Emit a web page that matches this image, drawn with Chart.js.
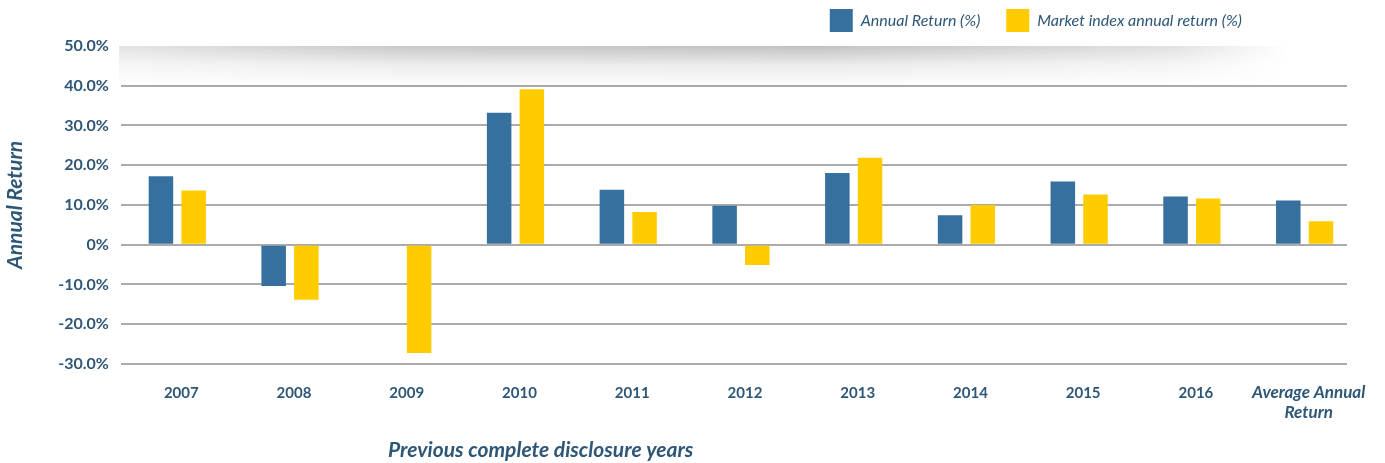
<!DOCTYPE html>
<html>
<head>
<meta charset="utf-8">
<script src="https://cdn.jsdelivr.net/npm/chart.js@4.4.1/dist/chart.umd.min.js"></script>
<style>
  html, body { margin: 0; padding: 0; background: #ffffff; }
  #wrap { width: 1385px; height: 463px; position: relative; }
</style>
</head>
<body>
<div id="wrap"><canvas id="c" width="1385" height="463"></canvas></div>
<script>
// ---- data ----
const categories = ['2007', '2008', '2009', '2010', '2011', '2012', '2013', '2014', '2015', '2016', ['Average Annual', 'Return']];
const annualReturn = [17.2, -10.4, -0.3, 33.2, 13.8, 9.8, 18.0, 7.4, 15.9, 12.1, 11.1];
const marketIndexReturn = [13.6, -13.9, -27.3, 39.1, 8.2, -5.1, 21.9, 10.0, 12.6, 11.6, 5.9];
const seriesNames = ['Annual Return (%)', 'Market index annual return (%)'];
const yTicks = { min: -30, max: 50, step: 10 };
const xAxisTitle = 'Previous complete disclosure years';
const yAxisTitle = 'Annual Return';

const TEXT = '#2E5677';
const FONT = 'Lato, "Open Sans", sans-serif';
const GRID_END_INSET = 14; // gridlines stop short of the category band's right edge

// decorative shadow band at top of plot + legend/title offsets + grid clip
const decor = {
  id: 'decor',
  afterLayout(chart) {
    const lg = chart.legend;
    if (lg) { lg.right = 1268; lg.top -= 4; lg.bottom -= 4; }
    const tb = chart.titleBlock;
    if (tb) { const w = tb.right - tb.left; tb.left = 388; tb.right = tb.left + w; }
  },
  beforeDraw(chart) {
    const a = chart.chartArea;
    const ctx = chart.ctx;
    ctx.save();
    ctx.beginPath();
    ctx.rect(0, 0, chart.width, chart.height);
    ctx.rect(a.right - GRID_END_INSET, a.top - 3, GRID_END_INSET + 2, a.bottom - a.top + 6);
    ctx.clip('evenodd');
  },
  beforeDatasetsDraw(chart) {
    const a = chart.chartArea;
    const ctx = chart.ctx;
    ctx.restore();
    const h = 42;
    const x0 = a.left - 2, x1 = a.right - 72;
    const w = x1 - x0;
    const off = document.createElement('canvas');
    off.width = w; off.height = h;
    const o = off.getContext('2d');
    const vg = o.createLinearGradient(0, 0, 0, h);
    vg.addColorStop(0, 'rgba(0,0,0,0.24)');
    vg.addColorStop(0.45, 'rgba(0,0,0,0.08)');
    vg.addColorStop(1, 'rgba(0,0,0,0)');
    o.fillStyle = vg; o.fillRect(0, 0, w, h);
    o.globalCompositeOperation = 'destination-in';
    const hg = o.createLinearGradient(0, 0, w, 0);
    hg.addColorStop(0, 'rgba(0,0,0,0.45)');
    hg.addColorStop(0.25, 'rgba(0,0,0,0.9)');
    hg.addColorStop(0.6, 'rgba(0,0,0,1)');
    hg.addColorStop(0.9, 'rgba(0,0,0,0.5)');
    hg.addColorStop(1, 'rgba(0,0,0,0)');
    o.fillStyle = hg; o.fillRect(0, 0, w, h);
    ctx.save();
    ctx.drawImage(off, x0, a.top);
    ctx.restore();
  }
};

new Chart(document.getElementById('c'), {
  type: 'bar',
  data: {
    labels: categories,
    datasets: [
      { label: seriesNames[0], data: annualReturn, backgroundColor: '#36709F', categoryPercentage: 0.58, barPercentage: 0.75 },
      { label: seriesNames[1], data: marketIndexReturn, backgroundColor: '#FFCC00', categoryPercentage: 0.58, barPercentage: 0.75 }
    ]
  },
  options: {
    responsive: false,
    animation: false,
    layout: { padding: { left: 3, right: 24, top: -13, bottom: 0 } },
    plugins: {
      tooltip: { enabled: false },
      legend: {
        position: 'top',
        align: 'end',
        labels: {
          boxWidth: 23, boxHeight: 23, padding: 26,
          color: TEXT,
          font: { family: FONT, size: 16, style: 'italic' }
        }
      },
      title: {
        display: true,
        text: xAxisTitle,
        position: 'bottom',
        align: 'start',
        color: TEXT,
        font: { family: FONT, size: 21, style: 'italic', weight: 'bold' },
        padding: { top: -4, bottom: 0 }
      }
    },
    scales: {
      x: {
        grid: { display: false, drawTicks: false },
        border: { display: false },
        ticks: {
          color: TEXT,
          padding: 19,
          labelOffset: 4,
          maxRotation: 0,
          autoSkip: false,
          font: (c) => (c.index === 10
            ? { family: FONT, size: 17, weight: 'bold', style: 'italic', lineHeight: '20px' }
            : { family: FONT, size: 15, weight: 'bold', lineHeight: '20px' })
        }
      },
      y: {
        min: yTicks.min, max: yTicks.max,
        border: { display: false },
        grid: {
          drawTicks: false,
          lineWidth: 2,
          color: (c) => (c.tick && c.tick.value === yTicks.max ? 'rgba(0,0,0,0)' : '#ABABAB')
        },
        ticks: {
          stepSize: yTicks.step,
          color: TEXT,
          padding: 12,
          font: { family: FONT, size: 16, weight: 'bold' },
          callback: (v) => (v === 0 ? '0%' : v.toFixed(1) + '%')
        },
        title: {
          display: true,
          text: yAxisTitle,
          color: TEXT,
          font: { family: FONT, size: 21, style: 'italic', weight: 'bold' },
          padding: { top: 0, bottom: 18 }
        }
      }
    }
  },
  plugins: [decor]
});
</script>
</body>
</html>
